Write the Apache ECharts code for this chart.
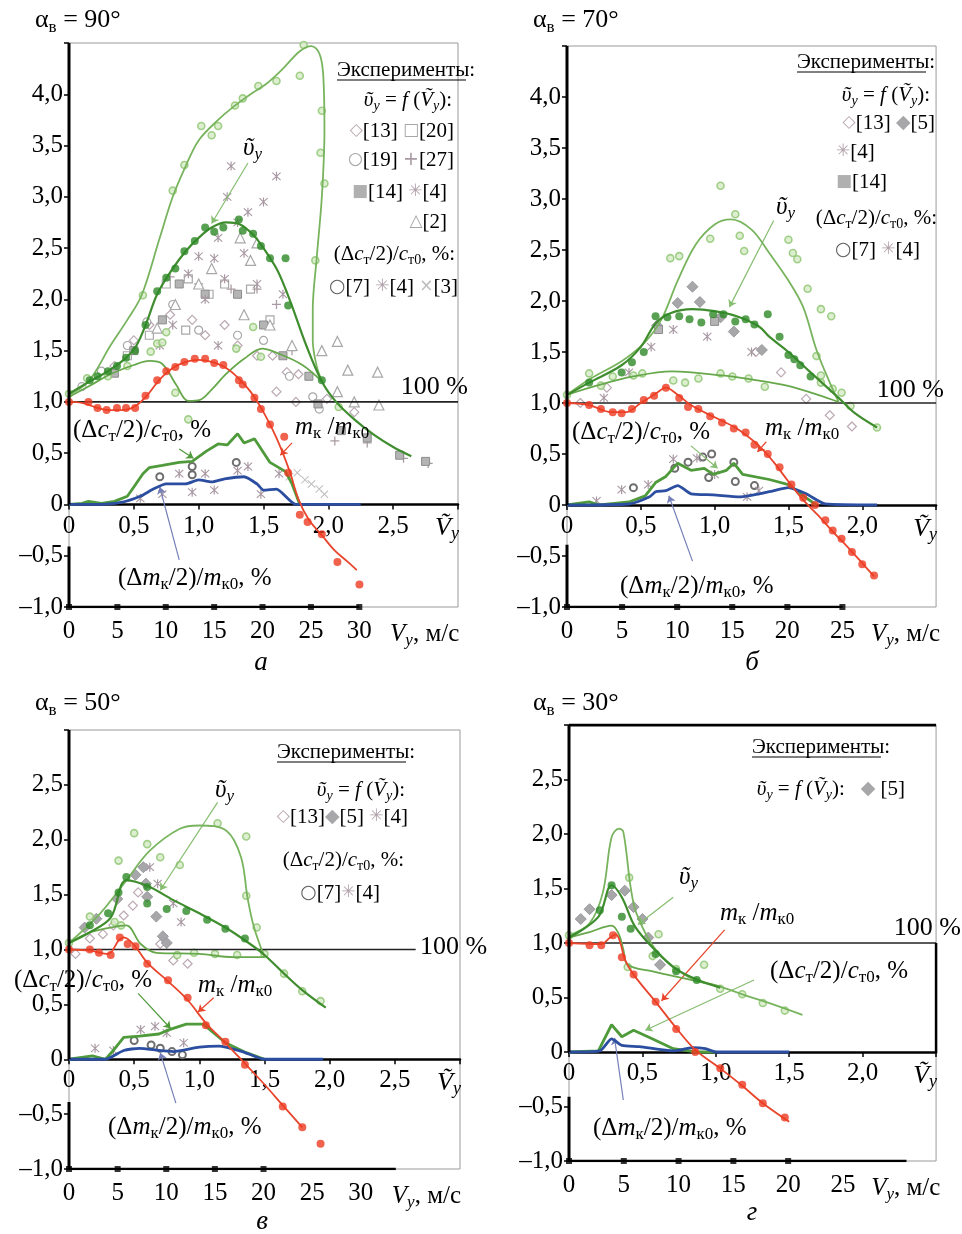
<!DOCTYPE html>
<html>
<head>
<meta charset="utf-8">
<script src="https://cdn.jsdelivr.net/npm/echarts@6/dist/echarts.min.js"></script>
<style>
html, body { margin: 0; background: #fff; }
#chart { width: 962px; height: 1234px; }
</style>
</head>
<body>
<div id="chart"></div>
<script>
var SERIF = '"Liberation Serif", "DejaVu Serif", serif';
var SYM = '"DejaVu Sans", sans-serif';
var VY_PER_TILDE = 13.4;   // m/s per unit of the dimensionless speed

// ---- panel а (90°) ----
var aUpper = [[0,1.07],[0.15,1.2],[0.32,1.55],[0.45,1.8],[0.56,2.04],[0.7,2.6],[0.8,3.0],[0.9,3.3],[1.0,3.55],[1.15,3.75],[1.26,3.87],[1.4,4.0],[1.52,4.1],[1.65,4.25],[1.78,4.42],[1.87,4.47],[1.93,4.4],[1.96,4.2],[1.97,3.65],[1.95,3.0],[1.91,2.4],[1.88,1.9],[1.88,1.6],[1.91,1.35],[1.95,1.2]];
var aMean = [[0,1.08],[0.16,1.2],[0.3,1.3],[0.44,1.43],[0.52,1.55],[0.6,1.78],[0.68,2.05],[0.8,2.3],[0.9,2.47],[1.0,2.6],[1.1,2.7],[1.21,2.75],[1.32,2.73],[1.42,2.63],[1.5,2.5],[1.6,2.3],[1.67,2.1],[1.73,1.9],[1.83,1.55],[1.95,1.2],[2.06,1.0],[2.2,0.83],[2.35,0.68],[2.5,0.56],[2.64,0.47]];
var aLower = [[0,1.05],[0.15,1.15],[0.32,1.27],[0.5,1.36],[0.62,1.4],[0.72,1.37],[0.83,1.16],[0.92,1.01],[1.01,1.02],[1.1,1.12],[1.21,1.27],[1.35,1.42],[1.49,1.52],[1.62,1.47],[1.8,1.36],[1.95,1.2]];
var aMeanDots = [[0.16,1.21],[0.22,1.25],[0.3,1.3],[0.37,1.35],[0.44,1.43],[0.51,1.5],[0.59,1.75],[0.68,2.08],[0.75,2.21],[0.82,2.3],[0.89,2.47],[0.97,2.57],[1.05,2.7],[1.12,2.66],[1.19,2.7],[1.31,2.78],[1.34,2.67],[1.42,2.64],[1.48,2.52],[1.55,2.4],[1.67,2.4],[1.69,1.94],[1.95,1.21]];
var aLightDots = [[0,1.08],[0.14,1.23],[0.57,2.04],[0.8,3.06],[0.89,3.31],[1.02,3.69],[1.1,3.6],[1.15,3.69],[1.28,3.89],[1.34,3.96],[1.46,4.08],[1.6,4.13],[1.78,4.18],[1.81,4.48],[2.05,4.51],[1.95,3.84],[1.94,3.43],[1.97,3.13],[1.9,2.38],[0.63,1.49],[0.68,1.57],[0.72,1.58],[0.75,1.68],[0.82,1.09],[0.92,0.83],[1.29,1.52],[1.42,1.73],[1.48,1.44],[0.3,1.25],[0.45,1.35],[2.08,0.95]];
var aMk = [[0,1.0],[0.1,0.99],[0.2,0.95],[0.3,0.92],[0.4,0.92],[0.5,0.95],[0.6,1.06],[0.7,1.22],[0.8,1.33],[0.9,1.39],[1.0,1.41],[1.1,1.39],[1.2,1.34],[1.3,1.24],[1.4,1.1],[1.5,0.9],[1.6,0.65],[1.7,0.33],[1.77,0.05],[1.85,-0.15],[1.95,-0.3],[2.05,-0.45],[2.15,-0.56],[2.22,-0.64]];
var aMkDots = [[0,1.0],[0.15,1.0],[0.22,0.94],[0.29,0.92],[0.37,0.94],[0.44,0.94],[0.51,0.94],[0.59,1.06],[0.68,1.21],[0.75,1.3],[0.82,1.34],[0.89,1.39],[0.97,1.42],[1.05,1.42],[1.12,1.38],[1.19,1.36],[1.31,1.21],[1.34,1.17],[1.43,1.04],[1.48,0.93],[1.55,0.78],[1.66,0.66],[1.69,0.31],[1.78,-0.1],[1.84,-0.17],[1.95,-0.29],[2.07,-0.56],[2.24,-0.78]];
var aDc = [[0,0],[0.1,0.01],[0.15,0.03],[0.25,0.01],[0.35,0.03],[0.45,0.08],[0.5,0.17],[0.57,0.3],[0.62,0.36],[0.72,0.38],[0.85,0.41],[0.95,0.42],[1.06,0.52],[1.15,0.59],[1.22,0.58],[1.3,0.69],[1.35,0.6],[1.43,0.64],[1.55,0.41],[1.67,0.32],[1.72,0.2],[1.78,0]];
var aDm = [[0,0],[0.2,0],[0.4,0.02],[0.55,0.08],[0.65,0.15],[0.75,0.2],[0.9,0.2],[1.0,0.24],[1.1,0.22],[1.2,0.25],[1.35,0.27],[1.45,0.2],[1.5,0.14],[1.6,0.15],[1.75,0],[2.25,0]];
var a13 = [[0.35,1.35],[0.5,1.6],[0.62,1.75],[0.78,1.85],[0.95,1.8],[1.05,1.65],[1.2,1.75],[1.3,1.55],[1.45,1.45],[1.57,1.45],[1.68,1.29],[1.77,1.27],[1.6,1.1],[1.75,1.0],[1.99,1.03],[2.2,0.9]];
var a20 = [[0.45,1.45],[0.62,1.65],[0.75,2.15],[0.92,2.2],[1.08,2.05],[1.2,2.15],[1.4,2.1],[1.55,1.8],[0.9,1.7]];
var a19 = [[0.1,1.15],[0.25,1.3],[0.45,1.55],[0.6,1.78],[0.8,1.95],[1.0,1.7],[1.3,1.65],[1.5,1.6],[1.7,1.25],[1.88,1.05],[1.93,0.93]];
var a27 = [[0.78,2.22],[1.0,2.15],[1.25,2.1],[1.45,2.1],[1.6,1.95],[1.72,1.5],[2.05,0.62],[2.3,0.6],[2.58,0.45],[2.77,0.4]];
var a14 = [[0.35,1.28],[0.5,1.5],[0.72,1.8],[0.85,2.15],[1.05,2.05],[1.3,2.05],[1.5,1.75],[1.65,1.45],[1.85,1.25],[1.92,0.98],[2.1,0.72],[2.3,0.65],[2.55,0.48],[2.75,0.42]];
var a4 = [[1.25,3.3],[1.22,3.0],[1.38,2.85],[1.6,3.2],[1.5,2.95],[1.3,2.75],[1.15,2.6],[1.0,2.42],[1.12,2.4],[0.92,2.25],[1.2,2.2],[1.35,2.45],[1.45,2.15],[1.05,2.0],[0.8,1.75],[1.15,1.55],[0.7,1.55],[1.65,2.05]];
var a2 = [[1.32,2.6],[1.45,2.55],[1.4,2.38],[1.1,2.3],[1.0,2.15],[0.82,1.95],[0.68,1.72],[1.35,1.85],[1.55,1.75],[1.72,1.55],[2.07,1.59],[2.15,1.31],[2.38,1.29],[2.07,1.1],[2.2,1.0],[2.39,0.97],[1.95,1.5]];
var aDc7 = [[0.7,0.27],[0.95,0.37],[0.95,0.29],[1.29,0.41]];
var aDc4 = [[0.55,0.06],[0.72,0.1],[0.85,0.3],[0.95,0.12],[1.05,0.3],[1.12,0.14],[1.3,0.33],[1.38,0.37],[1.48,0.1],[1.62,0.3]];
var aDc3 = [[1.7,0.27],[1.76,0.31],[1.82,0.24],[1.87,0.2],[1.93,0.15],[1.97,0.1]];

// ---- panel б (70°) ----
var bUpper = [[0,1.08],[0.15,1.23],[0.38,1.42],[0.53,1.6],[0.64,1.82],[0.75,2.2],[0.87,2.55],[1.0,2.75],[1.11,2.8],[1.25,2.7],[1.37,2.47],[1.5,2.2],[1.6,1.94],[1.69,1.52],[1.78,1.2],[1.84,1.01]];
var bMean = [[0,1.08],[0.15,1.2],[0.37,1.37],[0.5,1.55],[0.6,1.78],[0.7,1.88],[0.85,1.92],[1.0,1.9],[1.15,1.85],[1.3,1.75],[1.37,1.65],[1.5,1.5],[1.65,1.3],[1.84,1.05],[1.95,0.9],[2.1,0.76]];
var bLower = [[0,1.08],[0.2,1.17],[0.45,1.26],[0.71,1.31],[1.05,1.27],[1.3,1.22],[1.49,1.17],[1.7,1.08],[1.84,1.01]];
var bMeanDots = [[0.15,1.2],[0.37,1.3],[0.44,1.4],[0.52,1.5],[0.6,1.85],[0.68,1.84],[0.76,1.85],[0.83,1.82],[0.91,1.79],[0.99,1.87],[1.06,1.87],[1.14,1.8],[1.21,1.82],[1.27,1.77],[1.36,1.87],[1.44,1.65],[1.5,1.47],[1.54,1.43],[1.58,1.37],[1.65,1.26]];
var bLightDots = [[0,1.08],[1.04,3.13],[1.14,2.85],[1.17,2.64],[0.97,2.61],[1.2,2.49],[0.7,2.42],[0.76,2.44],[1.5,2.6],[1.53,2.47],[1.56,2.41],[1.63,2.12],[1.72,1.92],[1.79,1.85],[1.69,1.46],[1.72,1.27],[1.8,1.14],[1.86,1.1],[1.92,0.97],[0.15,1.29],[0.23,1.17],[0.31,1.26],[0.45,1.27],[0.51,1.29],[0.72,1.22],[0.8,1.2],[0.89,1.24],[1.04,1.29],[1.12,1.26],[1.23,1.24],[1.34,1.16],[1.72,1.2],[2.1,0.76]];
var bMk = [[0,1.0],[0.15,0.98],[0.3,0.91],[0.4,0.91],[0.5,1.0],[0.6,1.09],[0.67,1.15],[0.75,1.08],[0.85,0.97],[1.0,0.86],[1.15,0.75],[1.3,0.58],[1.4,0.42],[1.5,0.23],[1.6,0.05],[1.7,-0.1],[1.8,-0.26],[1.9,-0.41],[2.0,-0.57],[2.08,-0.7]];
var bMkDots = [[0,1.0],[0.15,0.98],[0.23,0.94],[0.31,0.91],[0.37,0.9],[0.44,0.94],[0.52,1.03],[0.59,1.07],[0.67,1.15],[0.76,1.05],[0.82,0.96],[0.89,0.94],[0.97,0.87],[1.05,0.81],[1.13,0.75],[1.21,0.71],[1.27,0.59],[1.36,0.5],[1.44,0.37],[1.52,0.2],[1.6,0.07],[1.68,0.0],[1.75,-0.15],[1.8,-0.25],[1.86,-0.33],[1.93,-0.46],[2.0,-0.58],[2.08,-0.69]];
var bDc = [[0,0],[0.15,0.03],[0.22,0],[0.42,0.03],[0.53,0.09],[0.6,0.22],[0.67,0.28],[0.75,0.41],[0.84,0.34],[0.93,0.36],[0.99,0.3],[1.08,0.34],[1.13,0.41],[1.19,0.3],[1.37,0.25],[1.5,0.2],[1.62,0.07],[1.69,0]];
var bDm = [[0,0],[0.42,0.01],[0.56,0.08],[0.6,0.13],[0.67,0.14],[0.75,0.19],[0.84,0.11],[0.99,0.1],[1.17,0.08],[1.37,0.13],[1.5,0.17],[1.62,0.11],[1.75,0.01],[2.1,0]];
var b13 = [[0.09,1.0],[0.27,1.15],[1.28,1.5],[1.45,1.3],[1.62,1.04],[1.78,0.88],[1.93,0.77]];
var b5 = [[0.61,1.76],[0.75,1.98],[0.85,2.14],[0.9,1.99],[1.04,1.84],[1.13,1.7],[1.32,1.52]];
var b4 = [[0.25,1.05],[0.42,1.3],[0.57,1.55],[0.72,1.72],[1.25,1.5],[0.95,1.65]];
var b14 = [[0.62,1.72],[1.0,1.8]];
var bDc7 = [[0.45,0.17],[0.73,0.36],[0.82,0.42],[0.92,0.47],[0.98,0.5],[0.96,0.27],[1.14,0.23],[1.27,0.19],[1.13,0.42]];
var bDc4 = [[0.2,0.04],[0.37,0.15],[0.55,0.2],[0.72,0.45],[0.88,0.46],[1.0,0.3],[1.22,0.08],[1.3,0.14]];

// ---- panel в (50°) ----
var vUpper = [[0,1.06],[0.24,1.33],[0.44,1.63],[0.62,1.9],[0.85,2.1],[1.0,2.13],[1.21,2.08],[1.32,1.84],[1.37,1.47],[1.42,1.2],[1.5,0.93]];
var vMean = [[0,1.06],[0.15,1.15],[0.32,1.29],[0.44,1.63],[0.6,1.58],[0.8,1.45],[1.0,1.33],[1.2,1.2],[1.39,1.05],[1.5,0.95],[1.65,0.78],[1.79,0.63],[1.97,0.47]];
var vLower = [[0,1.06],[0.15,1.15],[0.32,1.2],[0.44,1.22],[0.55,1.05],[0.67,0.97],[1.0,0.96],[1.26,0.93],[1.5,0.93]];
var vMeanDots = [[0.16,1.22],[0.3,1.33],[0.38,1.52],[0.44,1.66],[0.6,1.57],[0.6,1.42],[0.75,1.37],[0.9,1.35],[1.06,1.27],[1.2,1.19],[1.35,1.1]];
var vLightDots = [[0,1.06],[0.5,2.06],[0.6,1.96],[0.7,1.84],[0.38,1.81],[0.85,1.77],[1.14,2.15],[1.36,2.03],[1.36,1.49],[1.44,1.2],[0.16,1.3],[0.35,1.25],[0.4,1.22],[0.83,0.95],[0.96,0.97],[1.12,0.96],[1.29,0.95],[1.5,0.96],[1.65,0.78],[1.79,0.62],[1.93,0.53]];
var vMk = [[0,1.0],[0.16,0.99],[0.3,0.96],[0.38,1.08],[0.42,1.11],[0.5,1.04],[0.6,0.88],[0.76,0.71],[0.91,0.54],[1.05,0.33],[1.2,0.15],[1.35,-0.04],[1.5,-0.23],[1.64,-0.42],[1.79,-0.62]];
var vMkDots = [[0,1.0],[0.16,1.0],[0.23,0.97],[0.32,0.95],[0.39,1.11],[0.45,1.05],[0.51,1.03],[0.6,0.87],[0.76,0.72],[0.91,0.56],[1.05,0.31],[1.2,0.16],[1.35,-0.05],[1.64,-0.43],[1.79,-0.62],[1.93,-0.77]];
var vDc = [[0,0],[0.18,0.03],[0.28,0],[0.34,0.08],[0.42,0.2],[0.54,0.21],[0.69,0.23],[0.77,0.27],[0.9,0.32],[1.03,0.32],[1.2,0.15],[1.36,0.06],[1.5,0]];
var vDm = [[0,0],[0.28,0],[0.42,0.08],[0.54,0.1],[0.69,0.08],[0.8,0.07],[1.0,0.11],[1.15,0.12],[1.33,0.07],[1.5,0],[1.95,0]];
var v13 = [[0.05,0.96],[0.16,1.1],[0.26,1.14],[0.34,1.22],[0.42,1.31],[0.49,1.4],[0.53,1.52],[0.8,0.9],[0.91,0.87],[0.7,1.05]];
var v5 = [[0.12,1.2],[0.21,1.28],[0.37,1.46],[0.51,1.68],[0.57,1.75],[0.59,1.6],[0.6,1.48],[0.67,1.3],[0.72,1.12],[0.75,1.06]];
var v4 = [[0.62,1.75],[0.68,1.6],[0.8,1.42],[0.86,1.25]];
var vDc7 = [[0.5,0.17],[0.63,0.13],[0.7,0.1],[0.79,0.07],[0.87,0.04]];
var vDc4 = [[0.2,0.1],[0.34,0.08],[0.55,0.27],[0.66,0.3],[0.75,0.24],[0.88,0.15]];

// ---- panel г (30°) ----
var gUpper = [[0,1.07],[0.14,1.18],[0.23,1.46],[0.29,1.97],[0.34,2.05],[0.37,2.02],[0.42,1.51],[0.46,1.27],[0.59,0.94],[0.81,0.69],[1.03,0.6],[1.2,0.52],[1.36,0.45],[1.59,0.34]];
var gMean = [[0,1.05],[0.2,1.24],[0.29,1.53],[0.36,1.42],[0.45,1.15],[0.59,0.93],[0.73,0.76],[0.88,0.66],[1.03,0.59]];
var gLower = [[0,1.05],[0.14,1.1],[0.29,1.16],[0.34,1.08],[0.37,0.94],[0.4,0.8],[0.57,0.74],[0.8,0.67],[1.03,0.6]];
var gMeanDots = [[0.21,1.3],[0.29,1.53],[0.36,1.24],[0.42,1.13],[0.59,0.9],[0.73,0.74],[0.87,0.66]];
var gLightDots = [[0,1.07],[0.4,0.78],[0.57,0.88],[0.73,0.76],[0.92,0.8],[1.03,0.58],[1.18,0.53],[1.32,0.45],[1.47,0.38],[0.41,1.6],[0.61,1.08]];
var gMk = [[0,1.0],[0.22,0.99],[0.28,1.05],[0.32,1.08],[0.35,1.0],[0.38,0.85],[0.44,0.71],[0.59,0.46],[0.73,0.22],[0.86,0.02],[1.03,-0.15],[1.18,-0.31],[1.32,-0.47],[1.5,-0.64]];
var gMkDots = [[0,1.0],[0.14,0.98],[0.22,0.98],[0.3,1.07],[0.36,0.87],[0.44,0.71],[0.59,0.46],[0.73,0.21],[0.86,0.0],[1.03,-0.15],[1.18,-0.3],[1.32,-0.47],[1.47,-0.6]];
var gDc = [[0,0],[0.2,0.01],[0.29,0.25],[0.36,0.14],[0.44,0.2],[0.57,0.12],[0.71,0.03],[0.87,0],[1.0,0]];
var gDm = [[0,0],[0.21,0.01],[0.29,0.12],[0.36,0.06],[0.48,0.05],[0.71,0.01],[0.84,0.04],[0.93,0.03],[1.0,0],[1.5,0]];
var g5 = [[0.08,1.22],[0.14,1.31],[0.29,1.44],[0.38,1.48],[0.44,1.33],[0.5,1.22],[0.54,1.05],[0.62,0.8]];

// axes per panel
var tildeMax = [3.0, 2.5, 3.0, 2.5];
var yMax = [4.5, 4.5, 3.0, 3.0];
var vyLabels = [[0,5,10,15,20,25,30],[0,5,10,15,20,25],[0,5,10,15,20,25,30],[0,5,10,15,20,25]];
var vyMarks = [[0,5,10,15,20,25,30],[0,5,10,15,20,25],[0,5,10,15,20],[0,5,10,15,20]];
var vyLineEnd = [30, 25, 33.6, 30.8];
var vyNameAt = [35, 30, 35, 30];
var refEnd = [3.0, 2.5, 2.66, 2.5];
var yAxisGap = [-0.41, -0.39, -0.39, -0.41];   // the left axis line resumes below the tilde labels
var darkFrame = [false, false, false, true];    // panel г has a black top edge and right edge near the 100 % line

var grids = [
  {left: 69, top: 43, width: 389, height: 564},
  {left: 567, top: 46, width: 376, height: 561},
  {left: 69, top: 730, width: 391, height: 439},
  {left: 569, top: 725, width: 373, height: 436}
];

var PLUS = 'path://M4.3,0H5.7V4.3H10V5.7H5.7V10H4.3V5.7H0V4.3H4.3Z';
var STAR = 'path://M4.4,0H5.6V10H4.4Z M1.2,0.4L9.6,8.8L8.8,9.6L0.4,1.2Z M8.8,0.4L9.6,1.2L1.2,9.6L0.4,8.8Z';
var CROSS = 'path://M1.2,0.4L9.6,8.8L8.8,9.6L0.4,1.2Z M8.8,0.4L9.6,1.2L1.2,9.6L0.4,8.8Z';

var kinds = {
  dia:  {symbol: 'diamond', size: 9, color: '#fff', border: '#bba9b3', bw: 1.2},
  sq:   {symbol: 'rect', size: 8, color: '#fff', border: '#a8a8a8', bw: 1.2},
  ci:   {symbol: 'circle', size: 8, color: '#fff', border: '#a8a8a8', bw: 1.2},
  pl:   {symbol: PLUS, size: 9, color: '#a89aa2', border: null, bw: 0},
  fsq:  {symbol: 'rect', size: 8, color: '#b4b4b4', border: '#8c8c8c', bw: 1},
  st:   {symbol: STAR, size: 9, color: '#a898a2', border: null, bw: 0},
  tri:  {symbol: 'triangle', size: 10, color: '#fff', border: '#a8a8a8', bw: 1.2},
  ring: {symbol: 'circle', size: 7, color: '#fff', border: '#6e6e6e', bw: 2},
  x:    {symbol: CROSS, size: 8, color: '#bcbcbc', border: null, bw: 0},
  fdia: {symbol: 'diamond', size: 11, color: '#a7a7aa', border: '#9a9a9e', bw: 1}
};

var panels = [
  {upper: aUpper, mean: aMean, lower: aLower, meanDots: aMeanDots, light: aLightDots, mk: aMk, mkDots: aMkDots, dc: aDc, dm: aDm,
   exp: [[a13,'dia'],[a20,'sq'],[a19,'ci'],[a27,'pl'],[a14,'fsq'],[a4,'st'],[a2,'tri'],[aDc7,'ring'],[aDc4,'st'],[aDc3,'x']],
   arrows: [[[1.38,3.33],[1.1,2.74],'#86bd70'], [[1.72,0.6],[1.63,0.48],'#e8452c'], [[0.85,0.54],[0.96,0.45],'#4f9a3a'], [[0.85,-0.54],[0.7,0.17],'#7680b8']]},
  {upper: bUpper, mean: bMean, lower: bLower, meanDots: bMeanDots, light: bLightDots, mk: bMk, mkDots: bMkDots, dc: bDc, dm: bDm,
   exp: [[b13,'dia'],[b5,'fdia'],[b4,'st'],[b14,'fsq'],[bDc7,'ring'],[bDc4,'st']],
   arrows: [[[1.4,2.79],[1.1,1.94],'#86bd70'], [[1.35,0.62],[1.29,0.52],'#e8452c'], [[0.84,0.58],[1.02,0.36],'#86bd70'], [[0.85,-0.55],[0.69,0.09],'#7680b8']]},
  {upper: vUpper, mean: vMean, lower: vLower, meanDots: vMeanDots, light: vLightDots, mk: vMk, mkDots: vMkDots, dc: vDc, dm: vDm,
   exp: [[v13,'dia'],[v5,'fdia'],[v4,'st'],[vDc7,'ring'],[vDc4,'st']],
   arrows: [[[1.14,2.34],[0.7,1.54],'#86bd70'], [[1.11,0.56],[0.99,0.43],'#e8452c'], [[0.53,0.6],[0.78,0.28],'#4f9a3a'], [[0.82,-0.4],[0.7,0.06],'#7680b8']]},
  {upper: gUpper, mean: gMean, lower: gLower, meanDots: gMeanDots, light: gLightDots, mk: gMk, mkDots: gMkDots, dc: gDc, dm: gDm,
   exp: [[g5,'fdia']],
   arrows: [[[0.71,1.42],[0.47,1.17],'#86bd70'], [[1.06,1.12],[0.63,0.47],'#e8452c'], [[1.26,0.66],[0.52,0.2],'#86bd70'], [[0.37,-0.44],[0.31,0.13],'#7680b8']]}
];

function num(v) {
  if (Math.abs(v) < 1e-9) return '0';
  return (v < 0 ? '–' : '') + Math.abs(v).toFixed(1).replace('.', ',');
}

var FS = 25;
var xAxes = [], yAxes = [], series = [];

function edge(xi, yi, data, width) {
  return {type: 'line', xAxisIndex: xi, yAxisIndex: yi, data: data, z: 9, symbol: 'none', silent: true,
    lineStyle: {color: '#000', width: width}};
}

panels.forEach(function (p, i) {
  var tmax = tildeMax[i];
  var g = grids[i];
  // tilde axis sits on the y = 0 line
  var zeroOffset = -g.height / (yMax[i] + 1);
  xAxes.push({
    type: 'value', gridIndex: i, min: 0, max: tmax, interval: 0.5, position: 'bottom', offset: zeroOffset,
    axisLine: {onZero: false, lineStyle: {color: '#000', width: 2.5}},
    axisTick: {show: true, length: 5, lineStyle: {color: '#000', width: 1.5}},
    splitLine: {show: false},
    axisLabel: {
      margin: 9, fontFamily: SERIF, fontSize: FS, color: '#000', showMaxLabel: true,
      rich: {
        n: {fontFamily: SERIF, fontSize: 26, fontStyle: 'italic', color: '#000', lineHeight: 30},
        s: {fontFamily: SERIF, fontSize: 18, fontStyle: 'italic', color: '#000', verticalAlign: 'bottom', lineHeight: 14, padding: [0, 22, 0, 0]}
      },
      formatter: function (v) {
        if (Math.abs(v - tmax) < 1e-6) return '{n|Ṽ}{s|y}';
        return num(v);
      }
    }
  });
  var labels = vyLabels[i], marks = vyMarks[i], nameAt = vyNameAt[i];
  xAxes.push({
    type: 'value', gridIndex: i, min: 0, max: tmax * VY_PER_TILDE, interval: 5, position: 'bottom',
    axisLine: {show: false, onZero: false},
    axisTick: {show: false},
    splitLine: {show: false},
    axisLabel: {
      margin: 12, fontFamily: SERIF, fontSize: FS, color: '#000', showMaxLabel: false,
      rich: {
        n: {fontFamily: SERIF, fontSize: 25, fontStyle: 'italic', color: '#000', lineHeight: 30, padding: [0, 0, 0, nameAt === 35 ? 34 : 16]},
        s: {fontFamily: SERIF, fontSize: 17, fontStyle: 'italic', color: '#000', verticalAlign: 'bottom', lineHeight: 14},
        t: {fontFamily: SERIF, fontSize: FS, color: '#000', lineHeight: 30}
      },
      formatter: function (v) {
        if (v === nameAt) return '{n|V}{s|y}{t|, м/с}';
        if (labels.indexOf(v) >= 0) return String(v);
        return '';
      }
    }
  });
  yAxes.push({
    type: 'value', gridIndex: i, min: -1, max: yMax[i], interval: 0.5,
    axisLine: {show: false, onZero: false},
    axisTick: {show: true, length: 5, lineStyle: {color: '#000', width: 1.5}},
    splitLine: {show: false},
    axisLabel: {
      margin: 6, fontFamily: SERIF, fontSize: FS, color: '#000',
      formatter: function (v) { return v >= yMax[i] - 1e-6 ? '' : num(v); }
    }
  });

  var xi = 2 * i, xv = 2 * i + 1;

  // left axis line, broken under the tilde labels
  series.push(edge(xi, i, [[0, yMax[i]], [0, 0]], 3));
  series.push(edge(xi, i, [[0, yAxisGap[i]], [0, -1]], 3));
  if (darkFrame[i]) {
    series.push(edge(xi, i, [[0, yMax[i]], [tmax, yMax[i]]], 3));
    series.push(edge(xi, i, [[tmax, 1], [tmax, 0]], 2.5));
  }

  p.exp.forEach(function (e) {
    var k = kinds[e[1]];
    series.push({
      type: 'scatter', xAxisIndex: xi, yAxisIndex: i, data: e[0], z: 2,
      symbol: k.symbol, symbolSize: k.size, silent: true,
      itemStyle: {color: k.color, borderColor: k.border || k.color, borderWidth: k.bw, opacity: 1}
    });
  });
  series.push({
    type: 'scatter', xAxisIndex: xi, yAxisIndex: i, data: p.light, z: 3, symbolSize: 7, silent: true,
    itemStyle: {color: '#d4ebc4', borderColor: '#8cc46f', borderWidth: 1.6}
  });

  // 100 % reference line, also carries the annotation arrows
  series.push({
    type: 'line', xAxisIndex: xi, yAxisIndex: i, data: [[0, 1], [refEnd[i], 1]], z: 4,
    symbol: 'none', silent: true, lineStyle: {color: '#222', width: 1.6},
    markLine: {
      silent: true, animation: false, symbol: ['none', 'arrow'], symbolSize: 7,
      label: {show: false},
      data: p.arrows.map(function (a) {
        return [{coord: a[0], lineStyle: {color: a[2], width: 1.2, type: 'solid'}}, {coord: a[1]}];
      })
    }
  });

  series.push({type: 'line', xAxisIndex: xi, yAxisIndex: i, data: p.upper, z: 5, smooth: 0.35, symbol: 'none', silent: true,
    lineStyle: {color: '#78b45e', width: 1.8}});
  series.push({type: 'line', xAxisIndex: xi, yAxisIndex: i, data: p.lower, z: 5, smooth: 0.35, symbol: 'none', silent: true,
    lineStyle: {color: '#68a84c', width: 1.8}});
  series.push({type: 'line', xAxisIndex: xi, yAxisIndex: i, data: p.mean, z: 6, smooth: 0.35, symbol: 'none', silent: true,
    lineStyle: {color: '#3f8d2e', width: 2.2}});
  series.push({type: 'scatter', xAxisIndex: xi, yAxisIndex: i, data: p.meanDots, z: 7, symbolSize: 8, silent: true,
    itemStyle: {color: '#2e8a28'}});
  series.push({type: 'line', xAxisIndex: xi, yAxisIndex: i, data: p.dc, z: 6, symbol: 'none', silent: true,
    lineStyle: {color: '#4f9a3a', width: 2.8}});
  series.push({type: 'line', xAxisIndex: xi, yAxisIndex: i, data: p.dm, z: 6, smooth: 0.2, symbol: 'none', silent: true,
    lineStyle: {color: '#2b4ea0', width: 2.8}});
  series.push({type: 'line', xAxisIndex: xi, yAxisIndex: i, data: p.mk, z: 7, smooth: 0.35, symbol: 'none', silent: true,
    lineStyle: {color: '#e8452c', width: 1.8}});
  series.push({type: 'scatter', xAxisIndex: xi, yAxisIndex: i, data: p.mkDots, z: 8, symbolSize: 8, silent: true,
    itemStyle: {color: '#ee3b22'}});

  // dimensional speed axis drawn along y = -1
  series.push(edge(xv, i, [[0, -1], [vyLineEnd[i], -1]], 2.5));
  series.push({type: 'scatter', xAxisIndex: xv, yAxisIndex: i, data: marks.map(function (t) { return [t, -1]; }), z: 10,
    symbol: 'rect', symbolSize: 6, silent: true, itemStyle: {color: '#000'}});
});

// ---------- texts ----------
function rich(fs) {
  var sub = Math.round(fs * 0.66);
  return {
    t: {fontFamily: SERIF, fontSize: fs, lineHeight: fs + 6, fill: '#000'},
    i: {fontFamily: SERIF, fontSize: fs, fontStyle: 'italic', lineHeight: fs + 6, fill: '#000'},
    s: {fontFamily: SERIF, fontSize: sub, verticalAlign: 'bottom', lineHeight: sub + 1, fill: '#000'},
    si: {fontFamily: SERIF, fontSize: sub, fontStyle: 'italic', verticalAlign: 'bottom', lineHeight: sub + 1, fill: '#000'},
    dia: {fontFamily: SYM, fontSize: fs - 4, fill: '#b9a9b3'},
    sq: {fontFamily: SYM, fontSize: fs - 4, fill: '#a8a8a8'},
    ci: {fontFamily: SYM, fontSize: fs - 4, fill: '#a8a8a8'},
    pl: {fontFamily: SYM, fontSize: fs - 2, fill: '#a89aa2'},
    fsq: {fontFamily: SYM, fontSize: fs - 4, fill: '#b0b0b0'},
    st: {fontFamily: SYM, fontSize: fs - 4, fill: '#b0a0aa'},
    tri: {fontFamily: SYM, fontSize: fs - 4, fill: '#a8a8a8'},
    ring: {fontFamily: SYM, fontSize: fs - 2, fontWeight: 'bold', fill: '#5e5e5e'},
    x: {fontFamily: SYM, fontSize: fs - 4, fill: '#bcbcbc'},
    fdia: {fontFamily: SYM, fontSize: fs - 2, fill: '#a7a7aa'}
  };
}
function txt(x, y, text, align, fs) {
  return {type: 'text', silent: true, z: 100, style: {
    text: text, x: x, y: y, rich: rich(fs), align: align, textAlign: align,
    verticalAlign: 'middle', textVerticalAlign: 'middle', fill: '#000',
    fontFamily: SERIF, fontSize: fs}};
}
function uline(x1, x2, y) {
  return {type: 'line', silent: true, z: 100, shape: {x1: x1, y1: y, x2: x2, y2: y}, style: {stroke: '#000', lineWidth: 1}};
}

var VT = '{i|ῦ}{si|y}';
var FN = '{i|ῦ}{si|y}{t| = }{i|f}{t| (}{i|Ṽ}{si|y}{t|):}';
var DC = '{t|(Δ}{i|c}{s|т}{t|/2)/}{i|c}{s|т0}{t|, %}';
var DCL = '{t|(Δ}{i|c}{s|т}{t|/2)/}{i|c}{s|т0}{t|, %:}';
var DM = '{t|(Δ}{i|m}{s|к}{t|/2)/}{i|m}{s|к0}{t|, %}';
var MK = '{i|m}{s|к}{t| /}{i|m}{s|к0}';
var LF = 21, AF = 25;

var graphics = [
  // titles
  txt(35, 20, '{t|α}{s|в}{t| = 90°}', 'left', 26),
  txt(533, 20, '{t|α}{s|в}{t| = 70°}', 'left', 26),
  txt(35, 703, '{t|α}{s|в}{t| = 50°}', 'left', 26),
  txt(533, 703, '{t|α}{s|в}{t| = 30°}', 'left', 26),
  // captions
  txt(261, 663, '{i|а}', 'center', 27),
  txt(752, 663, '{i|б}', 'center', 27),
  txt(262, 1222, '{i|в}', 'center', 27),
  txt(752, 1213, '{i|г}', 'center', 27),

  // legend а
  txt(337, 70, '{t|Эксперименты:}', 'left', LF), uline(337, 466, 80),
  txt(452, 100, FN, 'right', LF),
  txt(454, 131, '{dia|◇}{t|[13] }{sq|□}{t|[20]}', 'right', LF),
  txt(454, 160, '{ci|○}{t|[19] }{pl|+}{t|[27]}', 'right', LF),
  txt(447, 192, '{fsq|■}{t|[14] }{st|✳}{t|[4]}', 'right', LF),
  txt(447, 222, '{tri|△}{t|[2]}', 'right', LF),
  txt(455, 254, DCL, 'right', LF),
  txt(458, 287, '{ring|○}{t|[7] }{st|✳}{t|[4] }{x|×}{t|[3]}', 'right', LF),
  // legend б
  txt(797, 62, '{t|Эксперименты:}', 'left', LF), uline(797, 926, 72),
  txt(930, 95, FN, 'right', LF),
  txt(935, 123, '{dia|◇}{t|[13] }{fdia|◆}{t|[5]}', 'right', LF),
  txt(836, 152, '{st|✳}{t|[4]}', 'left', LF),
  txt(836, 182, '{fsq|■}{t|[14]}', 'left', LF),
  txt(937, 218, DCL, 'right', LF),
  txt(920, 250, '{ring|○}{t|[7] }{st|✳}{t|[4]}', 'right', LF),
  // legend в
  txt(277, 752, '{t|Эксперименты:}', 'left', LF), uline(277, 406, 762),
  txt(405, 790, FN, 'right', LF),
  txt(408, 817, '{dia|◇}{t|[13]}{fdia|◆}{t|[5] }{st|✳}{t|[4]}', 'right', LF),
  txt(404, 860, DCL, 'right', LF),
  txt(380, 893, '{ring|○}{t|[7]}{st|✳}{t|[4]}', 'right', LF),
  // legend г
  txt(752, 747, '{t|Эксперименты:}', 'left', LF), uline(752, 881, 757),
  txt(905, 789, FN + '{t|   }{fdia|◆}{t| [5]}', 'right', LF),

  // annotations а
  txt(243, 148, VT, 'left', AF),
  txt(468, 387, '{t|100 %}', 'right', 26),
  txt(73, 430, DC, 'left', AF),
  txt(295, 427, MK, 'left', AF),
  txt(118, 578, DM, 'left', AF),
  // annotations б
  txt(776, 207, VT, 'left', AF),
  txt(944, 390, '{t|100 %}', 'right', 26),
  txt(572, 432, DC, 'left', AF),
  txt(765, 428, MK, 'left', AF),
  txt(620, 586, DM, 'left', AF),
  // annotations в
  txt(215, 790, VT, 'left', AF),
  txt(420, 947, '{t|100 %}', 'left', 26),
  txt(14, 980, DC, 'left', AF),
  txt(198, 985, MK, 'left', AF),
  txt(108, 1127, DM, 'left', AF),
  // annotations г
  txt(679, 877, VT, 'left', AF),
  txt(961, 928, '{t|100 %}', 'right', 26),
  txt(770, 971, DC, 'left', AF),
  txt(720, 913, MK, 'left', AF),
  txt(593, 1128, DM, 'left', AF)
];

var chart = echarts.init(document.getElementById('chart'));
chart.setOption({
  backgroundColor: '#fff',
  animation: false,
  grid: grids.map(function (g) {
    return {left: g.left, top: g.top, width: g.width, height: g.height, show: true,
      borderColor: '#9a9a9a', borderWidth: 1, backgroundColor: 'transparent', containLabel: false};
  }),
  xAxis: xAxes,
  yAxis: yAxes,
  series: series,
  graphic: {elements: graphics}
});
</script>
</body>
</html>
